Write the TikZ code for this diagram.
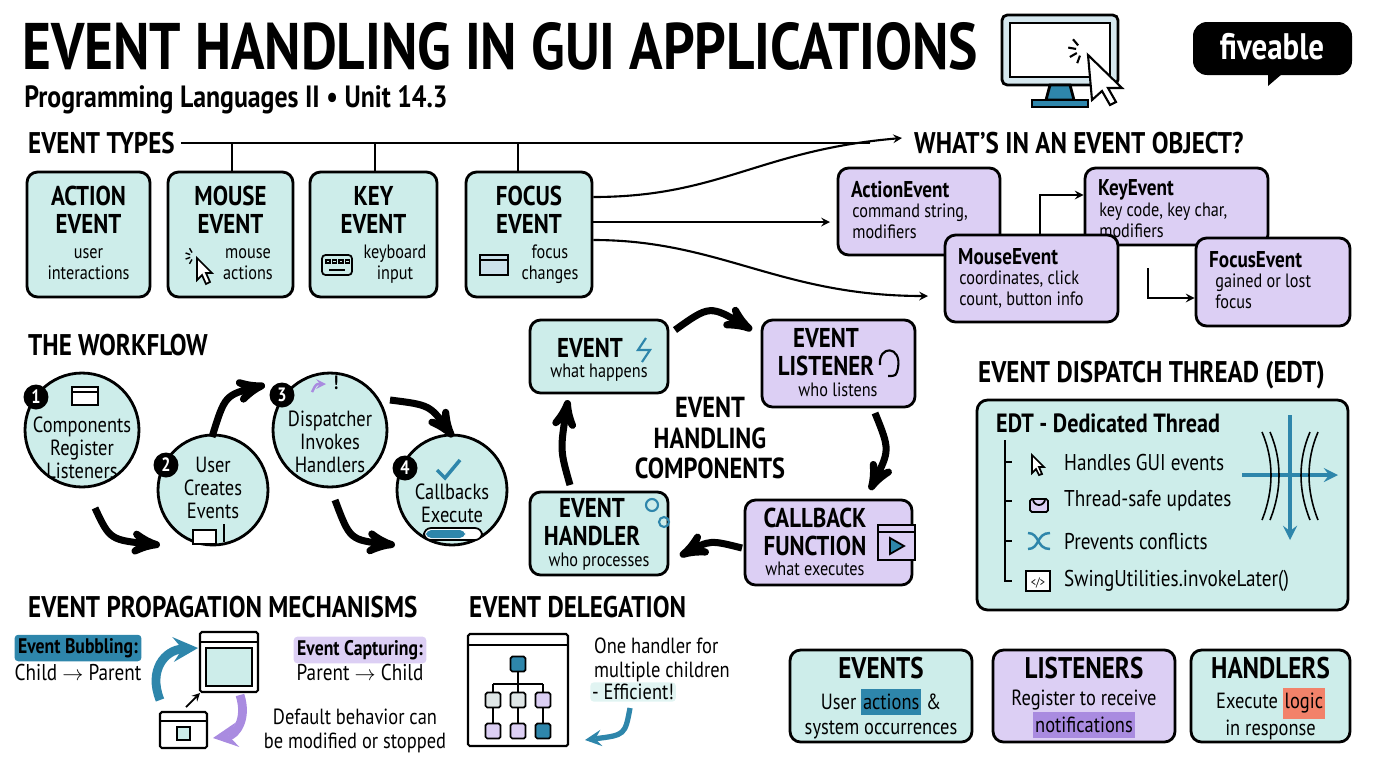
\documentclass[tikz,border=0pt]{standalone}
\usepackage{fontspec}
\setmainfont{PT Sans}[FakeStretch=0.84]
\usetikzlibrary{arrows, positioning}
\definecolor{tealf}{HTML}{CDEDEA}
\definecolor{purf}{HTML}{DCCFF4}
\definecolor{blu}{HTML}{2E86AB}
\definecolor{purd}{HTML}{A98BE0}
\definecolor{redh}{HTML}{F2826A}
\tikzset{
  tbox/.style={rectangle, rounded corners=6pt, draw=black, line width=1.6pt, fill=tealf},
  pbox/.style={tbox, fill=purf},
  bub/.style={circle, draw=black, line width=1.6pt, fill=tealf, minimum size=2.28cm},
  num/.style={circle, fill=black, text=white, font=\bfseries\fontsize{11}{11}\selectfont, inner sep=0pt, minimum size=0.5cm},
  head/.style={font=\bfseries\fontsize{17}{17}\selectfont, anchor=west},
  big/.style={font=\bfseries\fontsize{15.5}{16}\selectfont, align=center},
  small/.style={font=\fontsize{11}{12}\selectfont, align=center},
  obj/.style={font=\bfseries\fontsize{13}{13}\selectfont, anchor=west},
  objt/.style={font=\fontsize{11}{12}\selectfont, anchor=north west, align=left, inner sep=0pt},
  fat/.style={line width=4pt, ->, >=stealth', black},
  thin/.style={line width=1.2pt, ->, >=stealth},
  win/.style={draw=black, line width=1.2pt, fill=white, rounded corners=1pt},
}
\newcommand\ra{$\rightarrow$}
\begin{document}
\begin{tikzpicture}[x=0.02cm, y=-0.02cm]
\useasboundingbox (0,0) rectangle (1376,768);
% title
\node[anchor=west, font=\bfseries\fontsize{37.5}{37.5}\selectfont, inner sep=0pt] (title) at (22,46) {EVENT HANDLING IN GUI APPLICATIONS};
\node[anchor=west, font=\bfseries\fontsize{17.5}{17.5}\selectfont, inner sep=0pt] (sub) at (24,100) {Programming Languages II • Unit 14.3};
% monitor
\draw[line width=1.6pt, fill=blu!20, rounded corners=3pt] (1002,15) rectangle (1118,85);
\draw[line width=1.2pt, fill=white] (1010,23) rectangle (1110,77);
\draw[line width=1.6pt, fill=blu] (1050,85) -- (1070,85) -- (1074,100) -- (1046,100) -- cycle;
\draw[line width=1.6pt, fill=blu] (1032,100) rectangle (1088,107);
\draw[line width=1.2pt, fill=white] (1088,55) -- (1122,88) -- (1108,88) -- (1116,102) -- (1110,105) -- (1102,91) -- (1092,100) -- cycle;
\foreach \a in {110,150,190,230} \draw[line width=1.2pt] (1082,50) ++(\a:6) -- ++(\a:8);
% logo
\fill[black, rounded corners=8pt] (1193,22) rectangle (1352,75);
\fill[black] (1268,74) -- (1268,86) -- (1282,74) -- cycle;
\node[text=white, font=\bfseries\fontsize{21}{21}\selectfont] (logo) at (1272,47) {fiveable};

% event types
\node[head] (types) at (22,143) {EVENT TYPES};
\node[tbox, minimum width=2.46cm, minimum height=2.5cm] (action) at (88.5,234.5) {};
\node[tbox, minimum width=2.5cm, minimum height=2.5cm] (mouse) at (230.5,234.5) {};
\node[tbox, minimum width=2.54cm, minimum height=2.5cm] (key) at (373.5,234.5) {};
\node[tbox, minimum width=2.52cm, minimum height=2.5cm] (focus) at (529,234.5) {};
\node[big] at (88.5,210) {ACTION\\EVENT};
\node[small] at (88.5,264) {user\\interactions};
\node[big] at (230.5,210) {MOUSE\\EVENT};
\node[small] at (248,264) {mouse\\actions};
\node[big] at (373.5,210) {KEY\\EVENT};
\node[small] at (395,264) {keyboard\\input};
\node[big] at (529,210) {FOCUS\\EVENT};
\node[small] at (550,264) {focus\\changes};
% small icons
\draw[line width=1pt, fill=white] (197,258) -- (212,273) -- (206,273) -- (210,282) -- (206,284) -- (202,275) -- (197,280) -- cycle;
\foreach \a in {120,160,200,240} \draw[line width=0.8pt] (194,256) ++(\a:4) -- ++(\a:5);
\draw[line width=1pt, rounded corners=2pt] (322,255) rectangle (352,275);
\foreach \i in {0,1,2,3} \draw[line width=0.7pt] (326+\i*6.5,260) rectangle ++(4,3);
\draw[line width=0.9pt] (329,270) -- (345,270);
\draw[line width=1pt, fill=blu!25] (480,255) rectangle (508,275);
\draw[line width=1pt] (480,260) -- (508,260);
% connector line
\coordinate (brk) at (870,143);
\draw[line width=1.4pt] (types.east) -- (brk);
\foreach \xx in {232,375,518} \draw[line width=1.4pt] (\xx,143) -- (\xx,172);
\coordinate (objA) at (902,138);
\coordinate (objB) at (830,222);
\coordinate (objC) at (928,296);
\draw[thin] (focus.east |- 0,197) .. controls (720,197) and (760,150) .. (objA);
\draw[thin] (focus.east |- 0,222) -- (objB);
\draw[thin] (focus.east |- 0,240) .. controls (720,240) and (780,296) .. (objC);
\node[head] (objs) at (908,143) {WHAT’S IN AN EVENT OBJECT?};
\node[pbox, minimum width=3.24cm, minimum height=1.74cm] (ae) at (919,211.5) {};
\node[obj] at (845,190) {ActionEvent};
\node[objt] at (852,203) {command string,\\modifiers};
\node[pbox, minimum width=3.66cm, minimum height=1.54cm] (ke) at (1176.5,206.5) {};
\node[obj] at (1092,190) {KeyEvent};
\node[objt] at (1099,203) {key code, key char,\\modifiers};
\node[pbox, minimum width=3.46cm, minimum height=1.74cm] (me) at (1031.5,278.5) {};
\node[obj] at (952,257) {MouseEvent};
\node[objt] at (959,270) {coordinates, click\\count, button info};
\node[pbox, minimum width=3.08cm, minimum height=1.76cm] (fe) at (1273,282) {};
\node[obj] at (1203,260) {FocusEvent};
\node[objt] at (1215,273) {gained or lost\\focus};
\draw[thin] (1040,235) -- (1040,195) -- (ke.west |- 0,195);
\draw[thin] (1148,268) -- (1148,298) -- (fe.west |- 0,298);

% workflow
\node[head] (wf) at (22,345) {THE WORKFLOW};
\node[bub] (s1) at (82,430) {};
\node[bub, minimum size=2.2cm] (s2) at (213,490) {};
\node[bub] (s3) at (330,430) {};
\node[bub, minimum size=2.2cm] (s4) at (452,490) {};
\node[small, font=\fontsize{12.5}{13}\selectfont] at (82,448) {Components\\Register\\Listeners};
\node[small, font=\fontsize{12.5}{13}\selectfont] at (213,488) {User\\Creates\\Events};
\node[small, font=\fontsize{12.5}{13}\selectfont] at (330,442) {Dispatcher\\Invokes\\Handlers};
\node[small, font=\fontsize{12.5}{13}\selectfont] at (452,503) {Callbacks\\Execute};
\node[num] at (36,397) {1};
\node[num] at (166,465) {2};
\node[num] at (282,395) {3};
\node[num] at (405,468) {4};
\draw[line width=1pt, fill=white] (72,387) rectangle (98,405);
\draw[line width=1pt] (72,392) -- (98,392);
\draw[line width=1pt, fill=white] (193,530) rectangle (216,544);
\draw[line width=1pt] (224,524) -- (224,542);
\draw[line width=2pt, blu] (437,470) -- (445,478) -- (460,460);
\draw[line width=1pt, fill=white, rounded corners=4pt] (424,528) rectangle (482,540);
\fill[blu, rounded corners=3pt] (426,530) rectangle (465,538);
\draw[line width=1.4pt, ->, >=stealth, purd] (312,392) .. controls (316,384) .. (326,384);
\node[font=\bfseries\fontsize{11}{11}\selectfont] at (336,383) {!};
\draw[fat] (95,508) .. controls (110,540) .. (160,545);
\draw[fat] (212,437) .. controls (225,395) .. (265,385);
\draw[fat] (390,400) .. controls (430,405) .. (453,437);
\draw[fat] (335,500) .. controls (350,540) .. (395,545);

% components cycle
\node[tbox, minimum width=2.76cm, minimum height=1.46cm] (ev) at (599,356.5) {};
\node[big] at (590,348) {EVENT};
\node[small] at (599,373) {what happens};
\node[pbox, minimum width=3.06cm, minimum height=1.74cm] (lis) at (838.5,363.5) {};
\node[big] at (826,352) {EVENT\\LISTENER};
\node[small] at (838,390) {who listens};
\node[pbox, minimum width=3.34cm, minimum height=1.7cm] (cb) at (828.5,542.5) {};
\node[big] at (815,532) {CALLBACK\\FUNCTION};
\node[small] at (815,569) {what executes};
\node[tbox, minimum width=2.76cm, minimum height=1.66cm] (hd) at (599,533.5) {};
\node[big] at (592,522) {EVENT\\HANDLER};
\node[small] at (599,562) {who processes};
\draw[line width=1pt, fill=purf] (878,525) rectangle (915,560);
\draw[line width=1pt] (878,532) -- (915,532);
\draw[line width=1pt, fill=blu] (890,538) -- (890,554) -- (904,546) -- cycle;
\draw[line width=1.2pt, blu] (646,338) -- (638,350) -- (650,350) -- (642,362);
\draw[line width=1.2pt] (880,365) .. controls (878,345) and (902,345) .. (898,368) .. controls (896,376) .. (888,376);
\draw[line width=1.2pt, blu] (652,505) circle (6);
\draw[line width=1.2pt, blu] (664,522) circle (5);
\node[big, font=\bfseries\fontsize{16.5}{17.5}\selectfont] (hub) at (710,438) {EVENT\\HANDLING\\COMPONENTS};
\coordinate (evout) at (675,330);
\draw[fat] (evout) .. controls (710,305) .. (752,330);
\draw[fat] (875,413) .. controls (890,450) .. (870,490);
\draw[fat] (742,548) .. controls (710,540) .. (680,556);
\draw[fat] (570,485) .. controls (560,450) .. (568,400);

% EDT
\node[head] (edth) at (972,375) {EVENT DISPATCH THREAD (EDT)};
\node[tbox, minimum width=7.42cm, minimum height=4.2cm] (edt) at (1162.5,505) {};
\node[obj, font=\bfseries\fontsize{15}{15}\selectfont] at (990,423) {EDT - Dedicated Thread};
\draw[line width=1.2pt] (1005,440) -- (1005,581) -- (1012,581);
\foreach \yy/\tx in {462/Handles GUI events, 501/Thread-safe updates, 541/Prevents conflicts, 581/SwingUtilities.invokeLater()} {
  \draw[line width=1.2pt] (1005,\yy) -- (1012,\yy);
  \node[anchor=west, font=\fontsize{13}{13}\selectfont] at (1058,\yy) {\tx};
}
\draw[line width=1pt, fill=white] (1032,455) -- (1044,467) -- (1039,467) -- (1042,474) -- (1039,475) -- (1036,469) -- (1032,473) -- cycle;
\draw[line width=1pt, fill=purf, rounded corners=1pt] (1030,499) rectangle (1048,512);
\draw[line width=1pt] (1033,499) arc (180:0:6);
\draw[line width=1.4pt, blu] (1028,533) .. controls (1040,533) and (1036,549) .. (1050,549);
\draw[line width=1.4pt, blu] (1028,549) .. controls (1040,549) and (1036,533) .. (1050,533);
\draw[line width=1pt, fill=white] (1026,571) rectangle (1050,591);
\node[font=\fontsize{7}{7}\selectfont] at (1038,583) {</>};
\draw[line width=2.5pt, blu, ->, >=stealth] (1290,415) -- (1290,540);
\draw[line width=2.5pt, blu, ->, >=stealth] (1242,475) -- (1338,475);
\foreach \d in {8,16} {
  \draw[line width=0.9pt] (1290-\d-12,432) .. controls (1290-\d,460) and (1290-\d,490) .. (1290-\d-12,520);
  \draw[line width=0.9pt] (1290+\d+12,432) .. controls (1290+\d,460) and (1290+\d,490) .. (1290+\d+12,520);
}

% propagation
\node[head] (prop) at (22,607) {EVENT PROPAGATION MECHANISMS};
\node[fill=blu, rounded corners=2pt, inner sep=2pt, font=\bfseries\fontsize{12}{12}\selectfont] (bub) at (78,648) {Event Bubbling:};
\node[font=\fontsize{13}{13}\selectfont] (bubt) at (78,672) {Child \ra{} Parent};
\node[fill=purf, rounded corners=2pt, inner sep=2pt, font=\bfseries\fontsize{12}{12}\selectfont] (cap) at (360,650) {Event Capturing:};
\node[font=\fontsize{13}{13}\selectfont] (capt) at (360,672) {Parent \ra{} Child};
\node[font=\fontsize{12.5}{13.5}\selectfont, align=center] (dflt) at (355,731) {Default behavior can\\be modified or stopped};
\draw[win] (200,632) rectangle (258,692);
\draw[line width=1pt] (200,642) -- (258,642);
\draw[line width=1pt, fill=tealf] (206,648) rectangle (252,686);
\draw[win] (160,712) rectangle (207,748);
\draw[line width=1pt] (160,721) -- (207,721);
\draw[line width=1pt, fill=tealf] (177,727) rectangle (190,740);
\coordinate (bubA) at (160,700);
\coordinate (bubB) at (198,648);
\draw[line width=5pt, blu, ->, >=stealth] (bubA) .. controls (148,670) and (165,650) .. (bubB);
\draw[line width=5pt, purd, ->, >=stealth] (240,695) .. controls (248,720) and (235,735) .. (213,738);
\draw[line width=1pt, ->, >=stealth] (186,707) -- (200,693);

% delegation
\node[head] (deleg) at (463,607) {EVENT DELEGATION};
\draw[win] (468,634) rectangle (568,746);
\draw[line width=1pt] (468,645) -- (568,645);
\node[draw, line width=1pt, fill=blu, minimum size=0.3cm, inner sep=0pt, rounded corners=1pt] (root) at (518,664) {};
\foreach \xx/\c in {493/tealf!60!gray!40, 518/tealf!60!gray!40, 543/purf} \node[draw, line width=1pt, fill=\c, minimum size=0.3cm, inner sep=0pt, rounded corners=1pt] (m\xx) at (\xx,700) {};
\foreach \xx/\c in {493/purf, 518/purf, 543/blu} \node[draw, line width=1pt, fill=\c, minimum size=0.3cm, inner sep=0pt, rounded corners=1pt] (b\xx) at (\xx,731) {};
\draw[line width=0.9pt] (root) -- (518,684) (493,684) -- (543,684);
\foreach \xx in {493,518,543} \draw[line width=0.9pt] (\xx,684) -- (m\xx) (m\xx) -- (b\xx);
\node[font=\fontsize{12.5}{13.5}\selectfont, align=left, anchor=west] (delt) at (588,660) {One handler for\\multiple children};
\node[fill=tealf!60, rounded corners=2pt, inner sep=1pt, font=\fontsize{12.5}{13}\selectfont, anchor=west] (eff) at (590,692) {- Efficient!};
\coordinate (delA) at (585,740);
\draw[line width=3pt, blu, ->, >=stealth] (630,708) .. controls (625,735) .. (delA);

% summary boxes
\node[tbox, minimum width=3.64cm, minimum height=1.84cm] (sev) at (881,696) {};
\node[big, font=\bfseries\fontsize{17}{17}\selectfont] at (881,668) {EVENTS};
\node[small, font=\fontsize{12.5}{14}\selectfont] at (881,714) {User \colorbox{blu}{\kern-2pt actions\kern-2pt} \&\\system occurrences};
\node[pbox, minimum width=3.64cm, minimum height=1.84cm] (sli) at (1084,696) {};
\node[big, font=\bfseries\fontsize{17}{17}\selectfont] at (1084,668) {LISTENERS};
\node[small, font=\fontsize{12.5}{14}\selectfont] at (1084,714) {Register to receive\\\colorbox{purd}{\kern-2pt notifications\kern-2pt}};
\node[tbox, minimum width=3.18cm, minimum height=1.84cm] (sha) at (1270.5,696) {};
\node[big, font=\bfseries\fontsize{17}{17}\selectfont] at (1270.5,668) {HANDLERS};
\node[small, font=\fontsize{12.5}{14}\selectfont] at (1270.5,714) {Execute \colorbox{redh}{\kern-2pt logic\kern-2pt}\\in response};
\end{tikzpicture}
\end{document}
